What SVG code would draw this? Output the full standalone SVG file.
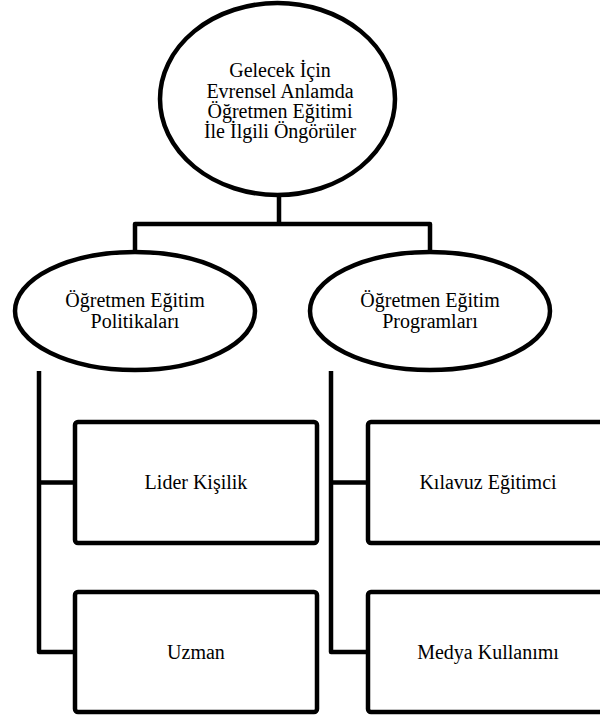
<svg xmlns="http://www.w3.org/2000/svg" width="600" height="715" viewBox="0 0 600 715">
<defs>
<style>
.shape{fill:#fff;stroke:#000;stroke-width:4.5}
.line{fill:none;stroke:#000;stroke-width:4.5;stroke-linejoin:round}
</style>
</defs>
<rect width="600" height="715" fill="#fff"/>
<g id="connectors">
<path class="line" d="M279,195 V224 M135,252 V224 H430 V252"/>
<path class="line" d="M39,371 V652 H75 M39,482.5 H75"/>
<path class="line" d="M331,371 V652 H368 M331,482.5 H368"/>
</g>
<g id="root">
<ellipse class="shape" cx="277.5" cy="99" rx="117.5" ry="96"/>
<text x="280" y="77" font-family="Liberation Serif" font-size="20" text-anchor="middle">Gelecek İçin</text>
<text x="280" y="97.5" font-family="Liberation Serif" font-size="20" text-anchor="middle">Evrensel Anlamda</text>
<text x="280" y="118" font-family="Liberation Serif" font-size="20" text-anchor="middle">Öğretmen Eğitimi</text>
<text x="280" y="138" font-family="Liberation Serif" font-size="20" text-anchor="middle">İle İlgili Öngörüler</text>
</g>
<g id="politikalar">
<ellipse class="shape" cx="135" cy="311" rx="120" ry="59"/>
<text x="135" y="307" font-family="Liberation Serif" font-size="20" text-anchor="middle">Öğretmen Eğitim</text>
<text x="135" y="328" font-family="Liberation Serif" font-size="20" text-anchor="middle">Politikaları</text>
</g>
<g id="programlar">
<ellipse class="shape" cx="430" cy="311" rx="120" ry="59"/>
<text x="430" y="307" font-family="Liberation Serif" font-size="20" text-anchor="middle">Öğretmen Eğitim</text>
<text x="430" y="328" font-family="Liberation Serif" font-size="20" text-anchor="middle">Programları</text>
</g>
<g id="lider">
<rect class="shape" x="75" y="422" width="242" height="121" rx="3"/>
<text x="196" y="489" font-family="Liberation Serif" font-size="20" text-anchor="middle">Lider Kişilik</text>
</g>
<g id="uzman">
<rect class="shape" x="75" y="592" width="242" height="120" rx="3"/>
<text x="196" y="659" font-family="Liberation Serif" font-size="20" text-anchor="middle">Uzman</text>
</g>
<g id="kilavuz">
<rect class="shape" x="368" y="422" width="242" height="121" rx="3"/>
<text x="488" y="489" font-family="Liberation Serif" font-size="20" text-anchor="middle">Kılavuz Eğitimci</text>
</g>
<g id="medya">
<rect class="shape" x="368" y="592" width="242" height="120" rx="3"/>
<text x="488" y="659" font-family="Liberation Serif" font-size="20" text-anchor="middle">Medya Kullanımı</text>
</g>
</svg>
